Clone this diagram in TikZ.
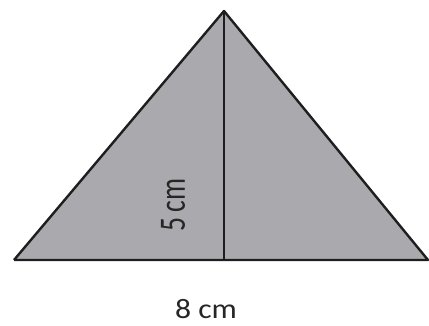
\documentclass[tikz,border=0pt]{standalone}
\usepackage{fontspec}
\setmainfont{Carlito}
\definecolor{trigray}{RGB}{170,170,174}
\definecolor{edge}{RGB}{30,30,30}
\begin{document}
\begin{tikzpicture}[x=1pt,y=1pt,
  edgeline/.style={draw=edge,line width=2.4pt,line join=round},
  lbl/.style={inner sep=0pt,font=\fontsize{28}{32}\selectfont,text=black!85}]
\useasboundingbox (0,0) rectangle (429,325);
\coordinate (A) at (224,314);
\coordinate (L) at (14,65);
\coordinate (R) at (428,65);
\coordinate (F) at (224,65);
\fill[trigray] (A) -- (L) -- (R) -- cycle;
\draw[edgeline] (L) -- (A) -- (R) -- (L);
\draw[edgeline] (A) -- (F);
\node[lbl,rotate=90,font=\fontsize{24}{28}\selectfont] (h) at (173,120) {\scalebox{1.15}[1.55]{5\,cm}};
\node[lbl] (b) at (206,16) {\scalebox{1.13}[1]{8 cm}};
\end{tikzpicture}
\end{document}
